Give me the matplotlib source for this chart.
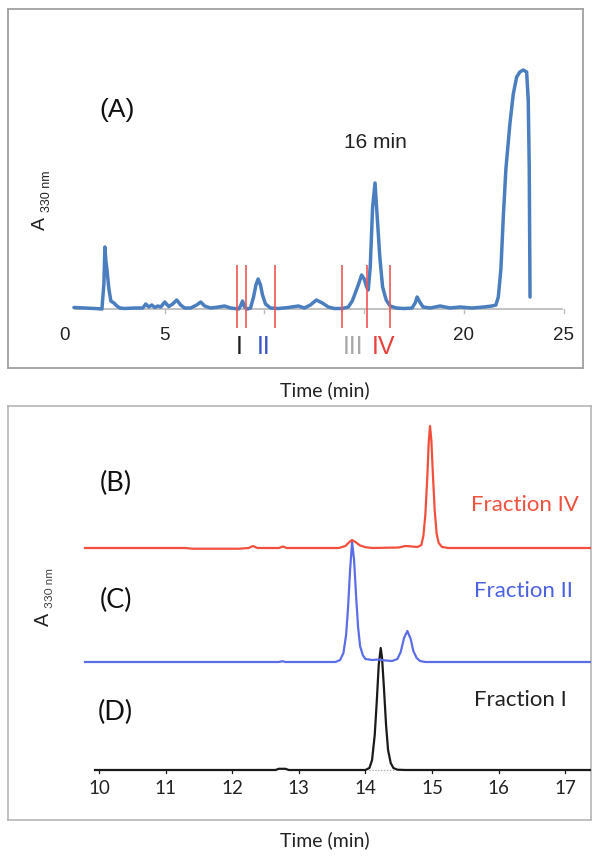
import matplotlib
matplotlib.use("Agg")
import matplotlib.pyplot as plt

# ---------------- data ----------------
# Panel A: HPLC trace (time in min, absorbance in arbitrary units)
trace_A = [(0.45, 1.5), (1.0, 1), (1.5, 0.5), (1.85, 0), (1.95, 25), (2.0, 62), (2.05, 48),
           (2.1, 40), (2.2, 20), (2.3, 8), (2.45, 6), (2.6, 3), (2.75, 1), (3.0, 0.5),
           (3.5, 1), (3.9, 1), (4.05, 5), (4.2, 2), (4.35, 4), (4.5, 1.5), (4.65, 3),
           (4.8, 2), (5.0, 7), (5.2, 2.5), (5.4, 5), (5.6, 9), (5.8, 4), (6.0, 1),
           (6.3, 1), (6.6, 4), (6.8, 7), (7.0, 3), (7.3, 1), (7.7, 2), (8.0, 3), (8.3, 1),
           (8.7, 0), (8.8, 3), (8.9, 8), (9.0, 2), (9.15, 0), (9.3, 1), (9.45, 12),
           (9.57, 24), (9.68, 30), (9.8, 24), (9.9, 14), (10.05, 5), (10.3, 1), (10.7, 0.5),
           (11.2, 1.5), (11.7, 3), (12.0, 1), (12.3, 4), (12.6, 9), (12.9, 6), (13.2, 2),
           (13.5, 0.5), (13.9, 0.5), (14.2, 2), (14.4, 8), (14.55, 16), (14.7, 24),
           (14.87, 34), (15.0, 30), (15.12, 22), (15.2, 19), (15.3, 42), (15.42, 102),
           (15.54, 126), (15.65, 92), (15.78, 52), (15.92, 22), (16.1, 9), (16.3, 3),
           (16.6, 1), (17.0, 0.5), (17.4, 1), (17.55, 6), (17.65, 12), (17.78, 7),
           (17.95, 2), (18.3, 1), (18.8, 3), (19.3, 1), (19.8, 2), (20.4, 1), (21.0, 2),
           (21.4, 3), (21.6, 4), (21.72, 12), (21.85, 40), (21.97, 92), (22.1, 140),
           (22.3, 185), (22.47, 215), (22.64, 232), (22.8, 237), (22.97, 239), (23.14, 237),
           (23.22, 209), (23.27, 142), (23.31, 12)]
cut_times = [8.62, 9.07, 10.53, 13.88, 15.14, 16.29]
axisA_ticks = [5, 10, 15, 20, 25]
axisA_labels = ["0", "5", "20", "25"]
axisA_label_pos = [0, 5, 20, 25]
fraction_names = ["I", "II", "III", "IV"]
fraction_label_pos = [8.72, 9.97, 14.44, 15.94]
fraction_colors = ["#202020", "#3a55c8", "#a8a8a8", "#e8403a"]

# Panels B-D: fraction re-analysis traces (time in min, absorbance relative to own baseline)
trace_B = [(9.79, 0), (11.3, 0), (11.4, -0.7), (12.1, -0.7), (12.25, 0), (12.31, 2),
           (12.38, 0), (12.7, 0), (12.76, 1.5), (12.82, 0), (13.6, 0), (13.7, 2),
           (13.76, 6), (13.8, 8), (13.85, 6), (13.92, 2.5), (14.0, 0.8), (14.1, 0),
           (14.5, 0.5), (14.6, 2), (14.7, 1.5), (14.78, 1), (14.84, 3), (14.87, 12),
           (14.90, 33), (14.93, 72), (14.95, 105), (14.97, 122), (14.99, 108), (15.01, 78),
           (15.04, 38), (15.07, 14), (15.10, 5), (15.15, 1), (15.25, 0), (17.38, 0)]
trace_C = [(9.79, 0), (12.7, 0), (12.75, 0.8), (12.8, 0), (13.55, 0), (13.62, 2),
           (13.67, 9), (13.71, 27), (13.74, 55), (13.77, 92), (13.80, 120), (13.83, 102),
           (13.86, 66), (13.89, 35), (13.92, 16), (13.96, 7), (14.0, 3), (14.1, 2),
           (14.2, 2.5), (14.3, 1.5), (14.4, 1), (14.48, 3), (14.53, 10), (14.58, 24),
           (14.63, 31), (14.68, 23), (14.72, 11), (14.77, 4), (14.82, 1), (14.9, 0),
           (17.38, 0)]
trace_D = [(9.94, 0), (12.65, 0), (12.7, 1.2), (12.8, 1.2), (12.85, 0), (14.0, 0),
           (14.06, 2), (14.10, 10), (14.14, 35), (14.17, 68), (14.20, 105), (14.23, 122),
           (14.25, 112), (14.28, 80), (14.31, 45), (14.34, 20), (14.38, 7), (14.42, 2),
           (14.48, 0.3), (14.6, 0), (17.38, 0)]
offsets = {"B": 222, "C": 108, "D": 0}
axisB_ticks = [10, 11, 12, 13, 14, 15, 16, 17]
panel_names = ["(B)", "(C)", "(D)"]
trace_names = ["Fraction IV", "Fraction II", "Fraction I"]

# ---------------- drawing ----------------
W, H = 602, 859
fig = plt.figure(figsize=(W / 100, H / 100), dpi=100)
fig.patch.set_facecolor("white")

sansA = ["Liberation Sans", "DejaVu Sans"]
sansB = ["Lato", "DejaVu Sans"]

# ---- Panel A ----
ax1 = fig.add_axes([8 / W, (H - 368) / H, 575 / W, 359 / H])
ax1.set_xlim(-2.857, 25.965)
ax1.set_ylim(-59, 300)
ax1.set_xticks([])
ax1.set_yticks([])
for s in ax1.spines.values():
    s.set_color("#a0a0a0")
    s.set_linewidth(1.3)

# gray axis line with ticks
ax1.plot([0.5, 24.9], [0, 0], color="#bdbdbd", lw=1.3, zorder=1)
for tk in axisA_ticks:
    ax1.plot([tk, tk], [0, -4], color="#bdbdbd", lw=1.0, zorder=1)
for lab, pos in zip(axisA_labels, axisA_label_pos):
    ax1.text(pos, -26, lab, ha="center", va="center", fontsize=13.5,
             family=sansA, color="#222222")

tA, vA = zip(*trace_A)
ax1.plot(tA, vA, color="#4a7ebf", lw=2.5, solid_joinstyle="round",
         solid_capstyle="round", zorder=3)
ax1.vlines(cut_times, -19, 44, colors="#f25555", lw=1.2, zorder=4)

for name, pos, col in zip(fraction_names, fraction_label_pos, fraction_colors):
    ax1.text(pos, -38, name, ha="center", va="center", fontsize=18,
             family=sansA, color=col)

ax1.text(2.6, 199, "(A)", ha="center", va="center", fontsize=19, family=sansA,
         color="#111111")
ax1.text(15.54, 167, "16 min", ha="center", va="center", fontsize=15,
         family=sansA, color="#222222")
ax1.text(-1.25, 86, "A", ha="center", va="center", rotation=90, fontsize=14,
         family=sansA, color="#222222")
ax1.text(-0.9, 118, "330 nm", ha="center", va="center", rotation=90, fontsize=9,
         family=sansA, color="#222222")

fig.text(325 / W, 1 - 390 / H, "Time (min)", ha="center", va="center",
         fontsize=14, family=sansB, color="#222222")

# ---- Panels B-D ----
ax2 = fig.add_axes([8 / W, (H - 820) / H, 583 / W, 414 / H])
ax2.set_xlim(8.634, 17.387)
ax2.set_ylim(-50, 364)
ax2.set_xticks([])
ax2.set_yticks([])
for s in ax2.spines.values():
    s.set_color("#b0b0b0")
    s.set_linewidth(1.1)

colors = {"B": "#f2503c", "C": "#5b6ee8", "D": "#1a1a1a"}
for key, tr in (("D", trace_D), ("C", trace_C), ("B", trace_B)):
    t, v = zip(*tr)
    ax2.plot(t, [x + offsets[key] for x in v], color=colors[key], lw=1.6,
             solid_joinstyle="round", zorder=3)

ax2.plot([14.05, 14.45], [0, 0], color="#999999", lw=0.8, ls=":", zorder=2)
for tk in axisB_ticks:
    ax2.plot([tk, tk], [0, -3], color="#1a1a1a", lw=0.9, zorder=2)
    ax2.text(tk, -19, str(tk), ha="center", va="center", fontsize=13.5,
             family=sansB, color="#222222")

for name, y in zip(panel_names, [287, 170, 58]):
    ax2.text(10.25, y, name, ha="center", va="center", fontsize=19.5,
             family=sansB, color="#111111")

text_cols = ["#f0503c", "#4a62e0", "#222222"]
for name, (x, y), col in zip(trace_names, [(16.40, 265), (16.37, 179), (16.32, 70)],
                             text_cols):
    ax2.text(x, y, name, ha="center", va="center", fontsize=16, family=sansB,
             color=col)

ax2.text(9.16, 151, "A", ha="center", va="center", rotation=90, fontsize=14,
         family=sansB, color="#222222")
ax2.text(9.25, 182, "330 nm", ha="center", va="center", rotation=90, fontsize=8.5,
         family=sansB, color="#444444")

fig.text(325 / W, 1 - 840 / H, "Time (min)", ha="center", va="center",
         fontsize=14, family=sansB, color="#222222")

fig.savefig("out.png", dpi=100, facecolor="white")
